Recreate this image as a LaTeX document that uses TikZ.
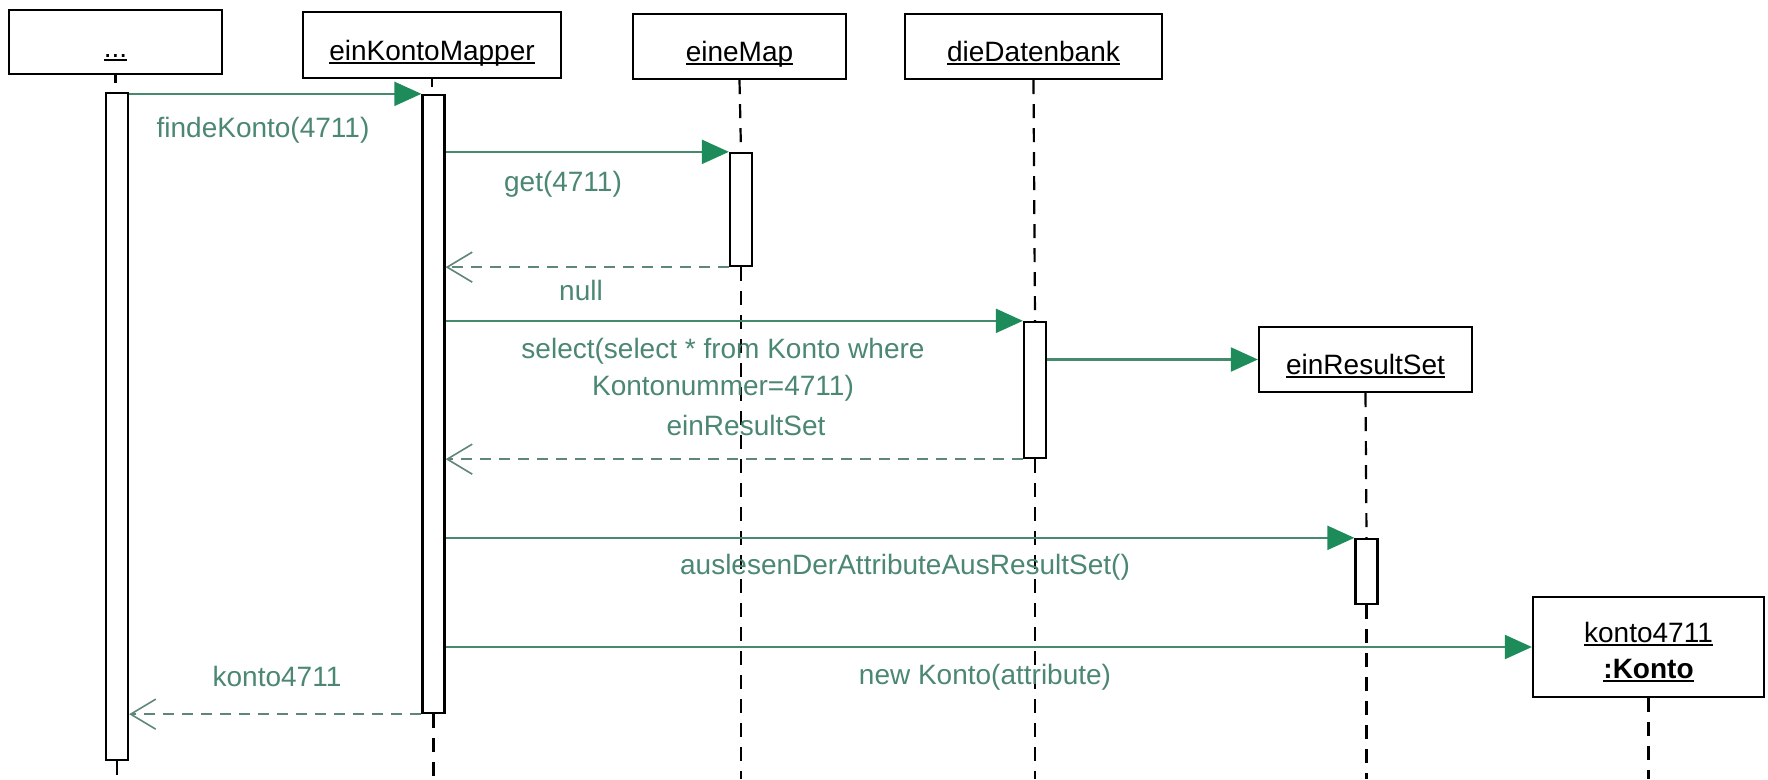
\documentclass[tikz,border=0pt]{standalone}
\usepackage{fontspec}
\setmainfont{Liberation Sans}
\usetikzlibrary{arrows.meta}
\definecolor{msgline}{RGB}{70,138,110}
\definecolor{msgtext}{RGB}{75,135,115}
\definecolor{headfill}{RGB}{30,140,90}
\definecolor{retline}{RGB}{95,135,120}
\newcommand{\myul}[1]{\setbox0\hbox{#1}\rlap{\copy0}\rule[-3.5pt]{\wd0}{1.8pt}}
\begin{document}
\begin{tikzpicture}[x=1pt,y=-1pt,
  objbox/.style={draw, line width=2.3pt, fill=white, inner sep=0pt, font=\fontsize{28}{36}\selectfont, text height=30pt, text depth=0pt},
  objboxtwo/.style={draw, line width=2.3pt, fill=white, inner sep=0pt, font=\fontsize{28}{36}\selectfont, align=center},
  actbar/.style={draw, fill=white, line width=2.3pt, inner sep=0pt, minimum width=22pt},
  life/.style={line width=2.2pt, dash pattern=on 14pt off 10pt},
  call/.style={draw=msgline, line width=2.2pt, -{Triangle[length=27pt,width=24pt,fill=headfill,color=headfill]}},
  ret/.style={draw=retline, line width=2.2pt, dash pattern=on 11pt off 8pt, -{Straight Barb[length=25pt,width=30pt,line width=1.6pt]}},
  msg/.style={text=msgtext, font=\fontsize{28}{37}\selectfont, inner sep=0pt, align=center}]
\fill[white] (0,0) rectangle (1768,779);
\useasboundingbox (0,0) rectangle (1768,779);

% object boxes
\node[objbox, minimum width=213pt, minimum height=64pt] (dots) at (115.5,42) {\myul{...}};
\node[objbox, minimum width=258pt, minimum height=66pt] (mapper) at (432,45) {\myul{einKontoMapper}};
\node[objbox, minimum width=213pt, minimum height=65pt] (map) at (739.5,46.5) {\myul{eineMap}};
\node[objbox, minimum width=257pt, minimum height=65pt] (db) at (1033.5,46.5) {\myul{dieDatenbank}};
\node[objbox, minimum width=213pt, minimum height=65pt] (rs) at (1365.5,359.5) {\myul{einResultSet}};
\node[objboxtwo, minimum width=231pt, minimum height=100pt] (konto) at (1648.5,647) {\rule{0pt}{30pt}\myul{konto4711}\\\textbf{\myul{:Konto}}};

% activation bars
\node[actbar, minimum height=667pt] (a1) at (117,426.5) {};
\node[actbar, minimum height=618pt] (a2) at (433.5,404) {};
\node[actbar, minimum height=113pt] (amap) at (741,209.5) {};
\node[actbar, minimum height=136pt] (adb) at (1035,390) {};
\node[actbar, minimum height=65pt] (ars) at (1366.5,571.5) {};

% lifeline ends
\coordinate (e1) at (117,779);
\coordinate (e2) at (433.5,779);
\coordinate (e3) at (741,779);
\coordinate (e4) at (1035,779);
\coordinate (e5) at (1366.5,779);
\coordinate (e6) at (1648.5,779);

% lifelines
\draw[line width=2.2pt] (dots.south) -- ++(0,8);
\draw[life] (a1.south) -- (e1);
\draw[line width=2.2pt] (mapper.south) -- ++(0,8);
\draw[life] (a2.south) -- (e2);
\draw[life] (map.south) -- (amap.north);
\draw[life] (amap.south) -- (e3);
\draw[life] (db.south) -- (adb.north);
\draw[life] (adb.south) -- (e4);
\draw[life] (rs.south) -- (ars.north);
\draw[life] (ars.south) -- (e5);
\draw[life] (konto.south) -- (e6);

% messages
\draw[call] (a1.east |- a2.north) -- (a2.north west);
\draw[call] (a2.east |- amap.north) -- (amap.north west);
\draw[ret] (amap.south west) -- (a2.east |- amap.south);
\draw[call] (a2.east |- adb.north) -- (adb.north west);
\draw[call] (adb.east |- rs.west) -- (rs.west);
\draw[ret] (adb.south west) -- (a2.east |- adb.south);
\draw[call] (a2.east |- ars.north) -- (ars.north west);
\draw[call] (a2.east |- konto.west) -- (konto.west);
\draw[ret] (a2.south west) -- (a1.east |- a2.south);

% labels
\node[msg] (l1) at (263,130) {findeKonto(4711)};
\node[msg] (l2) at (563,184) {get(4711)};
\node[msg] (l3) at (581,290) {null};
\node[msg] (l4) at (723,370) {select(select * from Konto where\\Kontonummer=4711)};
\node[msg] (l5) at (746,425) {einResultSet};
\node[msg] (l6) at (905,567) {auslesenDerAttributeAusResultSet()};
\node[msg] (l7) at (985,677) {new Konto(attribute)};
\node[msg] (l8) at (277,676) {konto4711};
\end{tikzpicture}
\end{document}
